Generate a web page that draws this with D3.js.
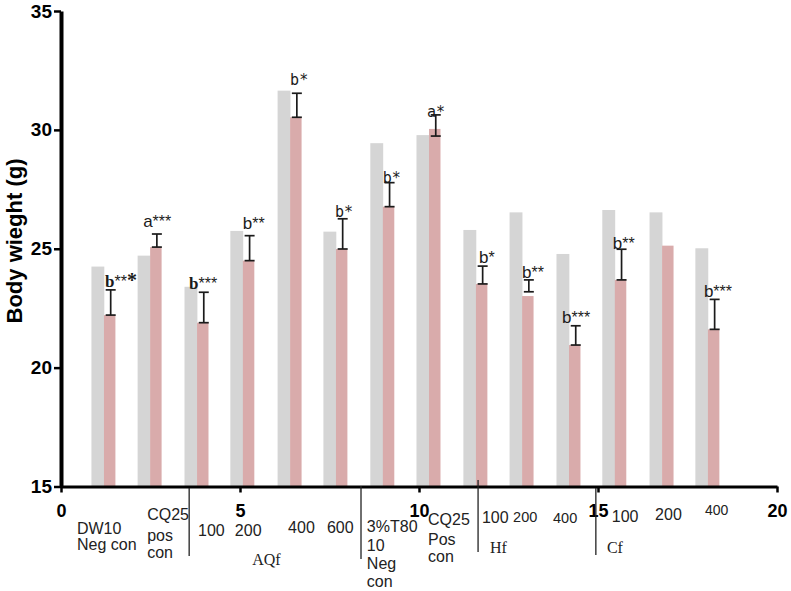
<!DOCTYPE html>
<html>
<head>
<meta charset="utf-8">
<script src="https://cdn.jsdelivr.net/npm/d3@7/dist/d3.min.js"></script>
<style>
  body { margin: 0; background: #fff; }
  svg { font-family: "Liberation Sans", Arial, sans-serif; }
</style>
</head>
<body>
<svg width="791" height="591"></svg>
<script>
// group positions on the numeric x axis (left edge of the pink bar)
const positions = [1.20, 2.49, 3.80, 5.08, 6.40, 7.68, 8.99, 10.28, 11.59, 12.88, 14.19, 15.47, 16.79, 18.07];
// grey bars (initial) and pink bars (final) body weight, g
const before = [24.25, 24.71, 23.40, 25.75, 31.65, 25.72, 29.44, 29.78, 25.79, 26.53, 24.78, 26.63, 26.53, 25.02];
const after = [22.21, 25.07, 21.89, 24.50, 30.53, 24.99, 26.77, 30.04, 23.52, 23.01, 20.95, 23.69, 25.13, 21.61];
const errLow = [22.21, 25.07, 21.89, 24.50, 30.53, 24.99, 26.77, 29.74, 23.52, 23.19, 20.95, 23.69, null, 21.61];
const errHigh = [23.27, 25.62, 23.17, 25.55, 31.54, 26.26, 27.78, 30.63, 24.27, 23.69, 21.76, 24.98, null, 22.87];
const marks = ['b***', 'a***', 'b***', 'b**', 'b*', 'b*', 'b*', 'a*', 'b*', 'b**', 'b***', 'b**', '', 'b***'];
const categories = [
    ['DW10', 'Neg con'], ['CQ25', 'pos', 'con'], ['100'], ['200'], ['400'], ['600'],
    ['3%T80', '10', 'Neg', 'con'], ['CQ25', 'Pos', 'con'], ['100'], ['200'], ['400'],
    ['100'], ['200'], ['400']
];
const groups = ['AQf', 'Hf', 'Cf'];
const groupX = [5.34, 11.98, 15.25];
const dividers = [3.58, 8.38, 11.65, 14.94];
const xTicks = [0, 5, 10, 15, 20];
const yTicks = [15, 20, 25, 30, 35];

// layout tweaks for the hand placed labels
const labelLayout = [
    { dx: -27, y: [534, 550] },
    { dx: -3, y: [520, 541, 558] },
    { dx: 1, y: [536] },
    { dx: -8, y: [536] },
    { dx: -2, y: [533] },
    { dx: -9, y: [533] },
    { dx: -16, y: [532, 551, 569, 587] },
    { dx: -1, y: [525, 545, 562] },
    { dx: 6, y: [523] },
    { dx: -9, y: [522], size: 14.5 },
    { dx: -16, y: [523], size: 14.5 },
    { dx: -3, y: [522] },
    { dx: -7, y: [520] },
    { dx: -3, y: [515], size: 14 }
];
const groupBaseline = [565, 553, 553];
const markDx = [1, -7, -8, 0, 0, -1, 0, -2, 3, 0, -7, -2, 0, -4];
const markDy = [-3, -7, -3, -7, -8, -2, 0, 2, -3, -2, -3, 0, 0, -2];
const markFont = ['serif', 'sans', 'serif', 'sans', 'mono', 'mono', 'mono', 'mono', 'sans', 'sans', 'sans', 'sans', 'sans', 'sans'];

const svg = d3.select('svg');

const x = d3.scaleLinear().domain([0, 20]).range([61, 777]);
const y = d3.scaleLinear().domain([15, 35]).range([486.5, 11]);

const greyW = x(0.36) - x(0);
const pinkW = x(0.32) - x(0);

const data = positions.map((p, i) => ({
    p, before: before[i], after: after[i], lo: errLow[i], hi: errHigh[i], mark: marks[i], i
}));

// bars
svg.append('g').selectAll('rect')
    .data(data)
    .enter()
    .append('rect')
    .attr('x', (d) => x(d.p - 0.35))
    .attr('y', (d) => y(d.before))
    .attr('width', greyW)
    .attr('height', (d) => y(15) - y(d.before))
    .attr('fill', '#d5d5d5')

svg.append('g').selectAll('rect')
    .data(data)
    .enter()
    .append('rect')
    .attr('x', (d) => x(d.p))
    .attr('y', (d) => y(d.after))
    .attr('width', pinkW)
    .attr('height', (d) => y(15) - y(d.after))
    .attr('fill', '#d9abab')

// error bars
const errs = svg.append('g')
    .attr('stroke', '#1b1b1b')
    .attr('stroke-width', 1.7)
    .selectAll('g')
    .data(data.filter((d) => d.hi !== null))
    .enter()
    .append('g')
    .attr('transform', (d) => `translate(${x(d.p) + pinkW / 2 + 1},0)`)

errs.append('line')
    .attr('y1', (d) => y(d.lo))
    .attr('y2', (d) => y(d.hi))
errs.append('line')
    .attr('x1', -5).attr('x2', 5)
    .attr('y1', (d) => y(d.lo)).attr('y2', (d) => y(d.lo))
errs.append('line')
    .attr('x1', -5).attr('x2', 5)
    .attr('y1', (d) => y(d.hi)).attr('y2', (d) => y(d.hi))

// significance marks
const fam = (f) => f === 'serif' ? '"Liberation Serif", serif'
    : f === 'mono' ? '"DejaVu Sans Mono", monospace' : '"Liberation Sans", Arial'

const markText = svg.append('g').selectAll('text')
    .data(data.filter((d) => d.mark !== ''))
    .enter()
    .append('text')
    .attr('x', (d) => x(d.p) + markDx[d.i])
    .attr('y', (d) => y(d.hi) + markDy[d.i])
    .attr('fill', '#1b1b1b')

markText.append('tspan')
    .text((d) => d.mark[0])
    .attr('font-family', (d) => fam(markFont[d.i]))
    .attr('font-weight', (d) => markFont[d.i] === 'serif' ? 'bold' : 'normal')
    .attr('font-size', (d) => markFont[d.i] === 'mono' ? 15 : 17)
// first group: the last star is set larger, as in the figure
markText.append('tspan')
    .text((d) => d.i === 0 ? d.mark.slice(1, -1) : d.mark.slice(1))
    .attr('font-family', (d) => markFont[d.i] === 'mono' ? fam('mono') : fam('sans'))
    .attr('font-size', (d) => markFont[d.i] === 'mono' ? 15 : 16)
markText.filter((d) => d.i === 0)
    .append('tspan')
    .text((d) => d.mark.slice(-1))
    .attr('font-family', fam('serif'))
    .attr('font-weight', 'bold')
    .attr('font-size', 20)

// axes
const yAxis = svg.append('g')
    .attr('transform', `translate(${x(0)},0)`)
    .call(d3.axisLeft(y).tickValues(yTicks).tickSize(7).tickSizeOuter(0).tickPadding(2))
yAxis.select('.domain').attr('stroke', '#000').attr('stroke-width', 4)
yAxis.selectAll('.tick line').attr('stroke', '#000').attr('stroke-width', 2.5)
yAxis.selectAll('.tick text')
    .attr('fill', '#000')
    .attr('font-size', 19)
    .attr('font-weight', 'bold')
    .attr('font-family', '"Liberation Sans", Arial')

const xAxis = svg.append('g')
    .attr('transform', `translate(0,${y(15)})`)
    .call(d3.axisBottom(x).tickValues(xTicks).tickSize(6).tickSizeOuter(0).tickPadding(12))
xAxis.select('.domain').attr('stroke', '#000').attr('stroke-width', 3)
xAxis.selectAll('.tick line').attr('stroke', '#000').attr('stroke-width', 2.5)
xAxis.selectAll('.tick text')
    .attr('fill', '#000')
    .attr('font-size', 18)
    .attr('font-weight', 'bold')
    .attr('font-family', '"Liberation Sans", Arial')

// group dividers
const dividerSpan = [[488, 556], [486, 559], [480, 552], [488, 555]];
svg.append('g').selectAll('line')
    .data(dividers)
    .enter()
    .append('line')
    .attr('x1', (d) => x(d)).attr('x2', (d) => x(d))
    .attr('y1', (d, i) => dividerSpan[i][0])
    .attr('y2', (d, i) => dividerSpan[i][1])
    .attr('stroke', '#222')
    .attr('stroke-width', 1.3)

// category labels
categories.forEach((lines, i) => {
    const lay = labelLayout[i];
    const t = svg.append('text')
        .attr('font-size', lay.size || 16)
        .attr('fill', '#222')
    lines.forEach((s, k) => {
        t.append('tspan')
            .attr('x', x(positions[i]) + lay.dx)
            .attr('y', lay.y[k])
            .text(s)
    })
})

svg.append('g').selectAll('text')
    .data(groups)
    .enter()
    .append('text')
    .attr('x', (d, i) => x(groupX[i]))
    .attr('y', (d, i) => groupBaseline[i])
    .attr('font-family', '"Liberation Serif", serif')
    .attr('font-size', 16)
    .attr('fill', '#222')
    .text((d) => d)

// y axis title
svg.append('text')
    .attr('transform', 'translate(22,241) rotate(-90)')
    .attr('text-anchor', 'middle')
    .attr('font-size', 22)
    .attr('font-weight', 'bold')
    .attr('fill', '#000')
    .text('Body wieght (g)')
</script>
</body>
</html>
